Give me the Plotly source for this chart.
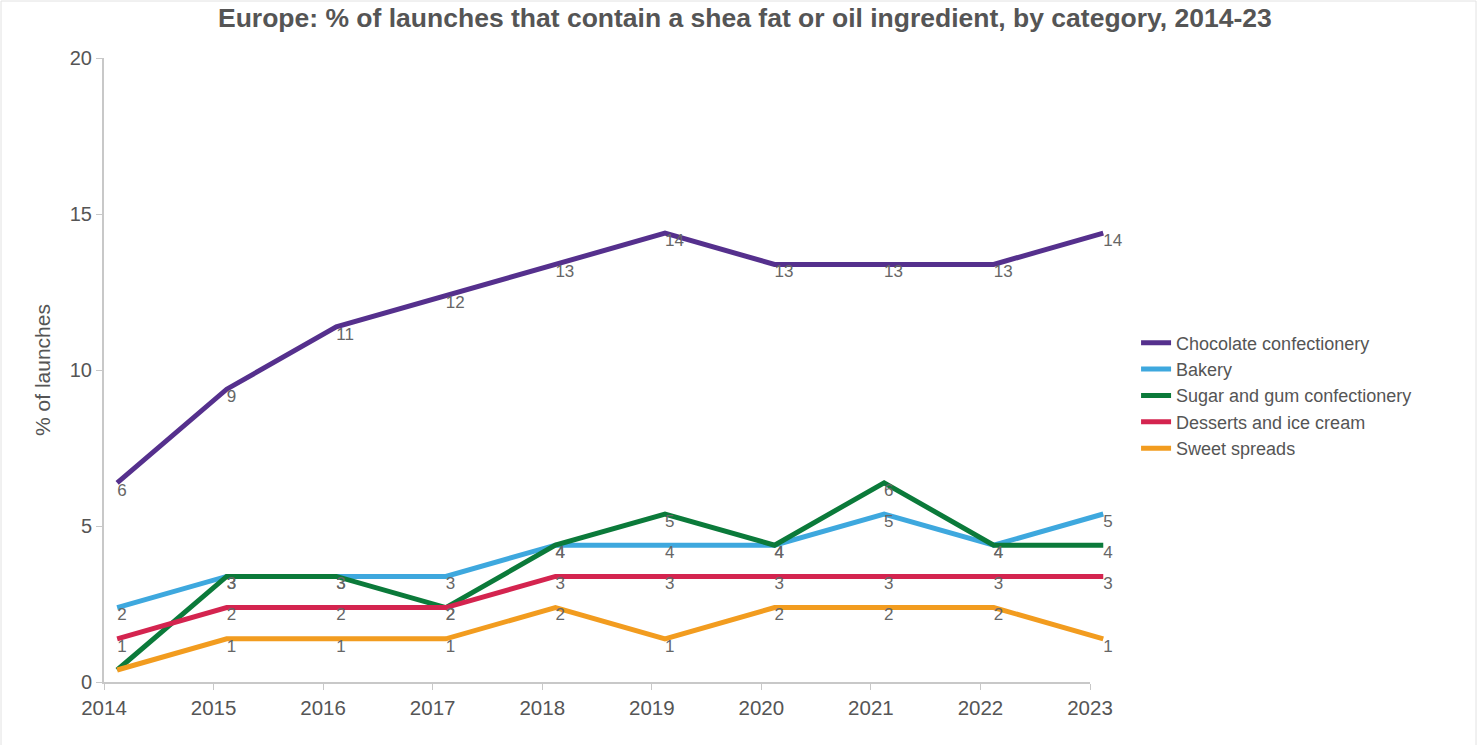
import plotly.graph_objects as go

years = [2014, 2015, 2016, 2017, 2018, 2019, 2020, 2021, 2022, 2023]
series_names = ["Chocolate confectionery", "Bakery", "Sugar and gum confectionery",
                "Desserts and ice cream", "Sweet spreads"]
chocolate = [6, 9, 11, 12, 13, 14, 13, 13, 13, 14]
bakery = [2, 3, 3, 3, 4, 4, 4, 5, 4, 5]
sugar_gum = [0, 3, 3, 2, 4, 5, 4, 6, 4, 4]
desserts = [1, 2, 2, 2, 3, 3, 3, 3, 3, 3]
sweet_spreads = [0, 1, 1, 1, 2, 1, 2, 2, 2, 1]
colors = ["#55308d", "#3ea8de", "#0b7a3a", "#d4244f", "#f29c1f"]
y_ticks = [0, 5, 10, 15, 20]

all_values = [chocolate, bakery, sugar_gum, desserts, sweet_spreads]

FONT = "Liberation Sans, Arial, sans-serif"
fig = go.Figure()
# empty trace so the visible axis frame is drawn
fig.add_trace(go.Scatter(x=[], y=[], showlegend=False, hoverinfo="skip",
                         xaxis="x", yaxis="y"))
for name, vals, col in zip(series_names, all_values, colors):
    labels = [str(v) if v != 0 else "" for v in vals]
    fig.add_trace(go.Scatter(
        x=years, y=vals, name=name, mode="lines+text",
        text=labels, textposition="bottom right",
        textfont=dict(family=FONT, size=17, color="#666666"),
        line=dict(color=col, width=5),
        xaxis="x2", yaxis="y2", cliponaxis=False, hoverinfo="x+y+name",
    ))

axis_col = "#c8c8c8"
vis_frac = 986 / 1002
fig.update_layout(
    width=1478, height=745,
    paper_bgcolor="white", plot_bgcolor="rgba(0,0,0,0)",
    margin=dict(l=104, r=372, t=58, b=63),
    font=dict(family=FONT, color="#555555"),
    title=dict(text="<b>Europe: % of launches that contain a shea fat or oil ingredient, by category, 2014-23</b>",
               x=0.504, xanchor="center", y=0.976, yanchor="middle",
               font=dict(size=26.5, color="#555555")),
    xaxis=dict(domain=[0, vis_frac], range=[2014, 2023], tickvals=years,
               ticktext=[str(y) for y in years],
               showgrid=False, zeroline=False, showline=True, linecolor=axis_col, linewidth=2,
               ticks="outside", ticklen=6, tickcolor=axis_col, tickwidth=1,
               tickfont=dict(size=20.5, color="#555555"), fixedrange=True),
    yaxis=dict(domain=[0, 1], range=[0, 20], tickvals=y_ticks, showgrid=False, zeroline=False,
               showline=True, linecolor=axis_col, linewidth=2,
               ticks="outside", ticklen=6, tickcolor=axis_col, tickwidth=1,
               tickfont=dict(size=20, color="#555555"), fixedrange=True,
               title=dict(text="% of launches", font=dict(size=21, color="#555555"), standoff=13)),
    xaxis2=dict(domain=[0, 1], anchor="y2", range=[2013.88, 2023.025], visible=False,
                fixedrange=True),
    yaxis2=dict(domain=[0, 1], anchor="x2", range=[-0.385, 19.615], visible=False,
                fixedrange=True),
    legend=dict(x=1.03, y=0.573, xanchor="left", yanchor="top",
                font=dict(size=18, color="#555555"), tracegroupgap=0,
                itemwidth=30, bgcolor="rgba(0,0,0,0)"),
    showlegend=True,
    shapes=[dict(type="rect", xref="paper", yref="paper",
                 x0=-103 / 1002, x1=(1476 - 104) / 1002,
                 y0=-70 / 624, y1=681 / 624,
                 line=dict(color="#e2e2e2", width=1), fillcolor="rgba(0,0,0,0)", layer="below")],
)
fig.write_html("out.html")
